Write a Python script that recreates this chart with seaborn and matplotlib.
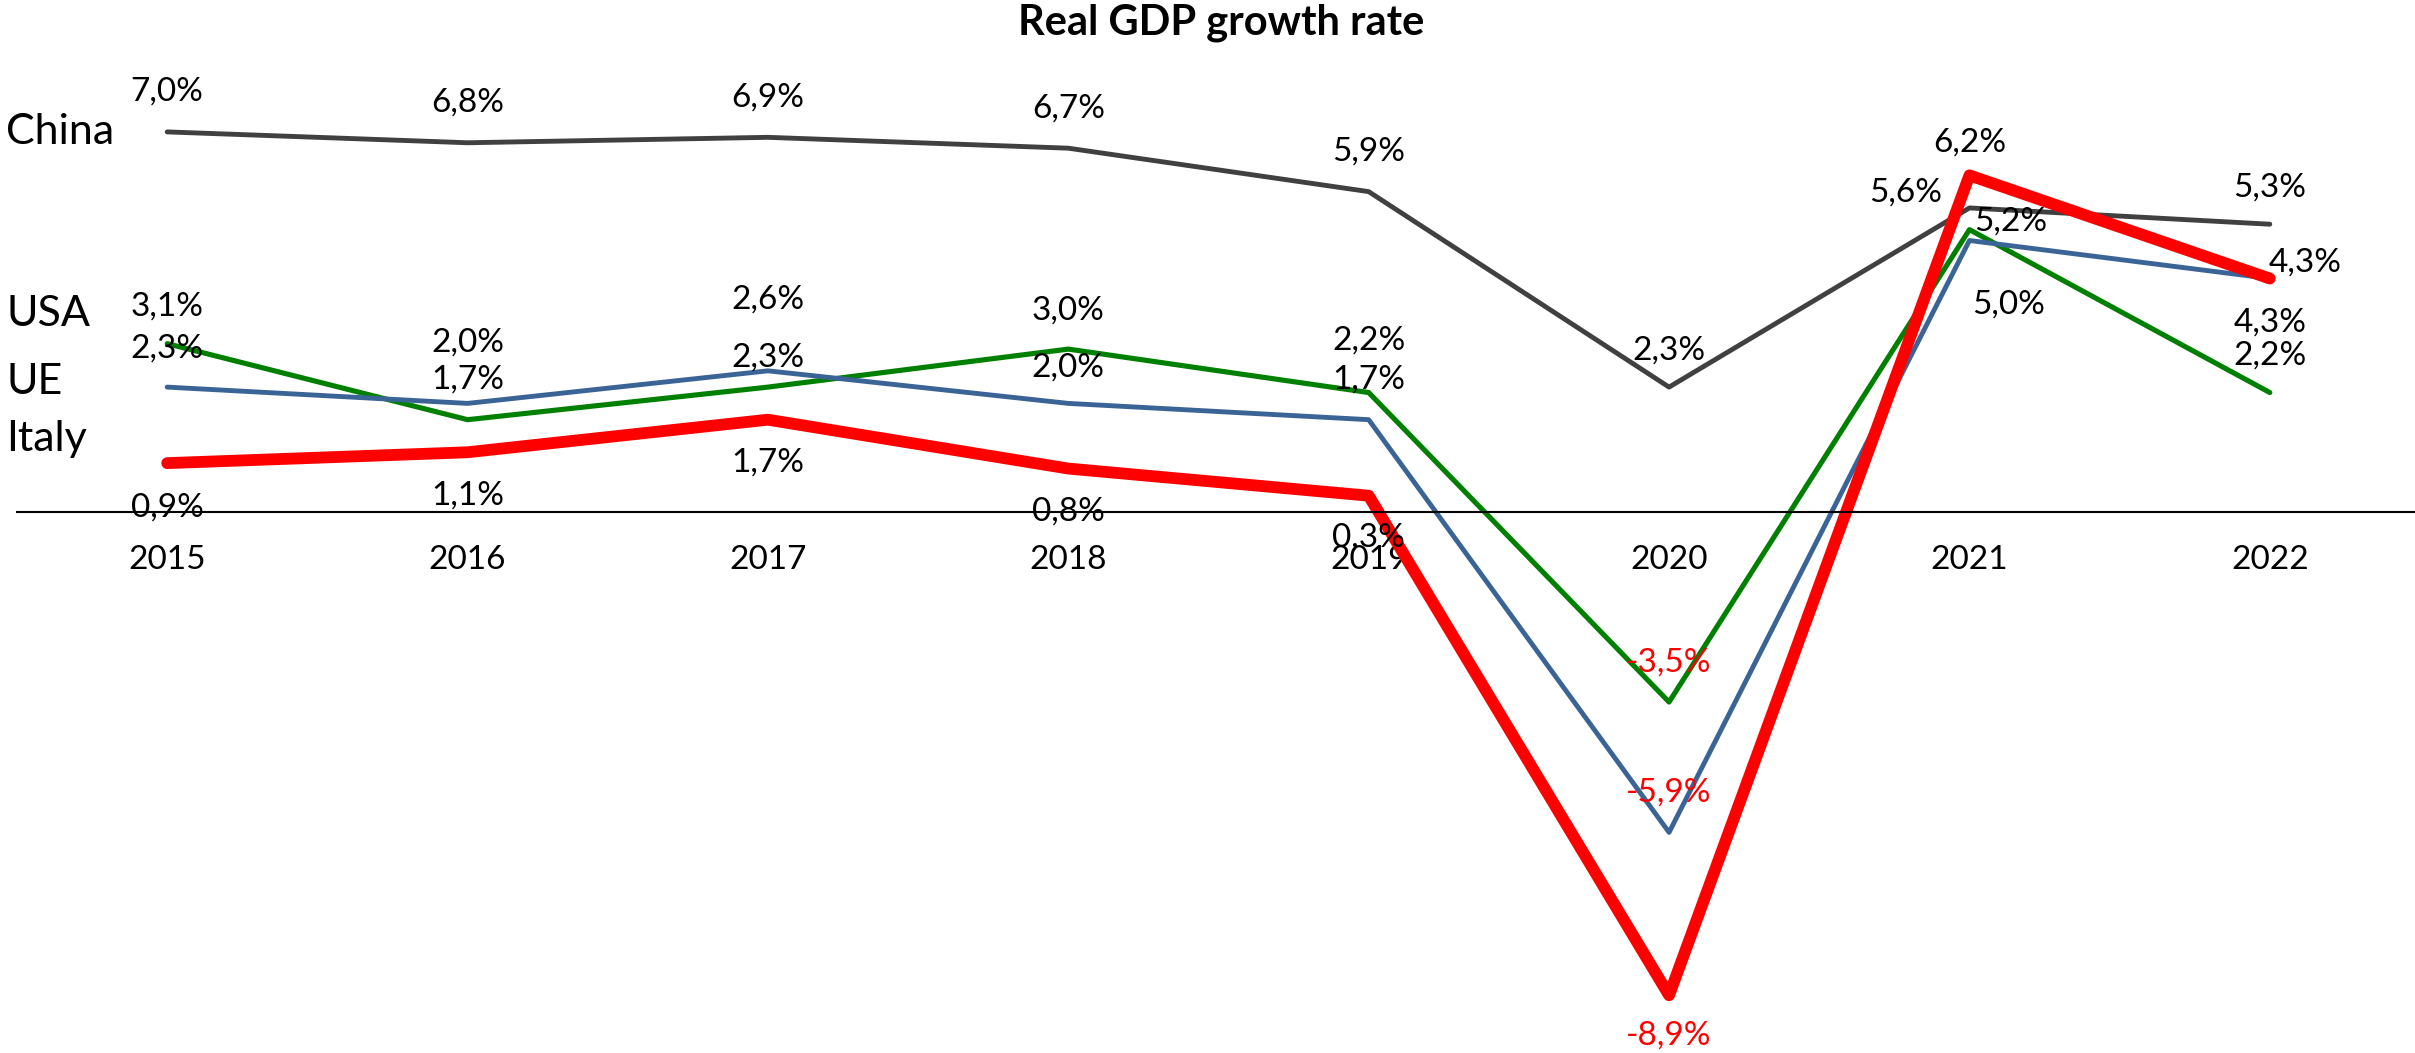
import matplotlib
matplotlib.use("Agg")
import matplotlib.pyplot as plt
import pandas as pd
import seaborn as sns

# Real GDP growth, % per year
years = [2015, 2016, 2017, 2018, 2019, 2020, 2021, 2022]
china = [7.0, 6.8, 6.9, 6.7, 5.9, 2.3, 5.6, 5.3]
usa = [3.1, 1.7, 2.3, 3.0, 2.2, -3.5, 5.2, 2.2]
ue = [2.3, 2.0, 2.6, 2.0, 1.7, -5.9, 5.0, 4.3]
italy = [0.9, 1.1, 1.7, 0.8, 0.3, -8.9, 6.2, 4.3]

series = {"China": china, "USA": usa, "UE": ue, "Italy": italy}
order = ["China", "USA", "UE", "Italy"]

colors = {"China": "#404040", "USA": "#008000", "UE": "#3B6496", "Italy": "#FF0000"}
widths = {"China": 3.5, "USA": 3.7, "UE": 3.5, "Italy": 8.5}

# label placement (pixel offsets of each value label from its point)
label_dx = {
    "China": [0, 0, 0, 0, 0, 0, -64, 0],
    "USA":   [0, 0, 0, 0, 0, 0, 41, 0],
    "UE":    [0, 0, 0, 0, 0, 0, 39, 0],
    "Italy": [0, 0, 0, 0, 0, 0, 0, 35],
}
label_dy = {
    "China": [40, 40, 40, 40, 40, 37, 15, 37],
    "USA":   [37, 40, 30, 39, 52, 40, 8, 37],
    "UE":    [39, 61, 71, 36, 40, 40, -64, -44],
    "Italy": [-44, -43, -43, -43, -42, -40, 33, 16],
}
name_y_px = {"China": 132, "USA": 314, "UE": 382, "Italy": 439}

df = pd.DataFrame(
    [(c, y, v) for c in order for y, v in zip(years, series[c])],
    columns=["Country", "Year", "Growth"],
)

sns.set_theme(style="white")
plt.rcParams["font.family"] = ["Lato", "DejaVu Sans"]

W, H = 2415, 1053
fig = plt.figure(figsize=(W / 100, H / 100), dpi=100)

# axes: zero line at 512 px from top, 54.3 px per percentage point
ymin, ymax = -9.9, 9.0
ppu = 54.3
zero_px = 512
top_px = zero_px - ymax * ppu
bot_px = zero_px - ymin * ppu
left_px, right_px = 17, 2420
ax = fig.add_axes([left_px / W, 1 - bot_px / H, (right_px - left_px) / W, (bot_px - top_px) / H])
ax.set_facecolor("none")

sns.lineplot(
    data=df, x="Year", y="Growth", hue="Country", hue_order=order,
    palette=colors, size="Country", sizes=widths, size_order=order,
    legend=False, ax=ax, sort=False,
    solid_joinstyle="round", solid_capstyle="round",
)

ax.set_xlim(2014.5, 2022.5)
ax.set_ylim(ymin, ymax)
for s in ["top", "right", "left"]:
    ax.spines[s].set_visible(False)
ax.spines["bottom"].set_position(("data", 0))
ax.spines["bottom"].set_color("black")
ax.spines["bottom"].set_linewidth(1.5)
ax.set_xticks(years)
ax.set_xticklabels([str(y) for y in years])
ax.set_yticks([])
ax.set_xlabel("")
ax.set_ylabel("")
ax.tick_params(axis="x", length=0, pad=24, colors="black", labelsize=24)

for c in order:
    for i, (y, v) in enumerate(zip(years, series[c])):
        txt = f"{v:.1f}%".replace(".", ",")
        ax.annotate(
            txt, (y, v), xytext=(label_dx[c][i], label_dy[c][i]),
            textcoords="offset pixels", ha="center", va="center",
            fontsize=24, color="#FF0000" if v < 0 else "black",
            annotation_clip=False, zorder=10,
        )

for c in order:
    fig.text(6 / W, 1 - name_y_px[c] / H, c, fontsize=31, ha="left", va="center", color="black")

fig.text(1221 / W, 1 - 23 / H, "Real GDP growth rate", fontsize=30, fontweight="bold",
         ha="center", va="center", color="black")

fig.savefig("out.png", dpi=100, facecolor="white")
